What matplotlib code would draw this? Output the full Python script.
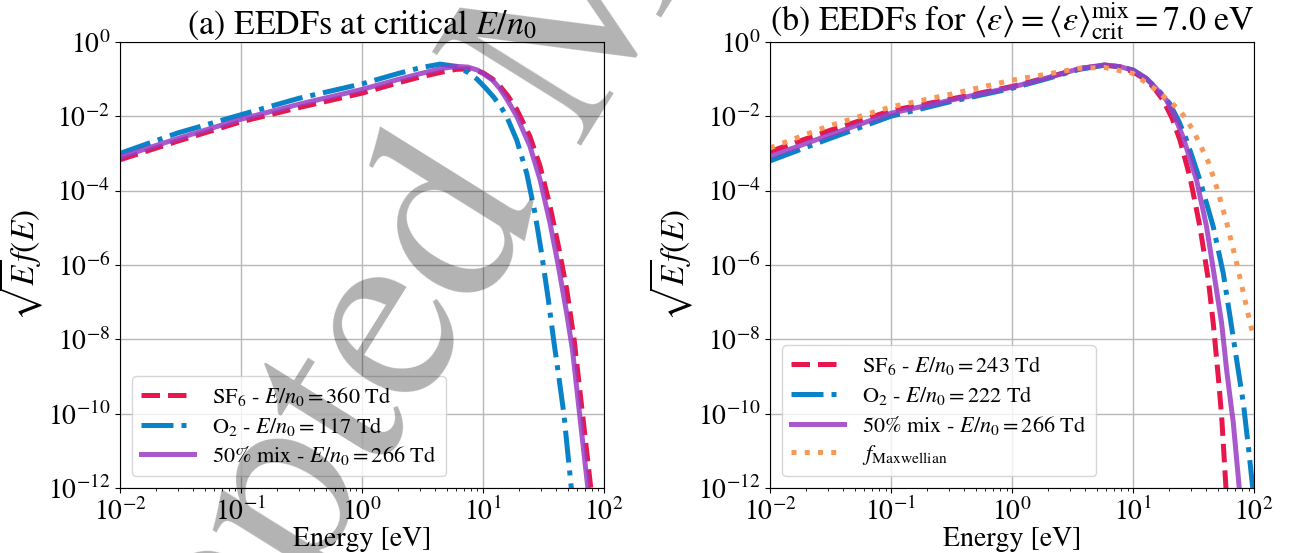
import numpy as np
import matplotlib
matplotlib.use('Agg')
import matplotlib.pyplot as plt
from matplotlib.ticker import NullLocator

plt.rcParams['font.family'] = ['STIXGeneral', 'Liberation Serif', 'DejaVu Serif']
plt.rcParams['mathtext.fontset'] = 'stix'

# values as log10(sqrt(E) f(E))
# panel (a): EEDFs at critical E/n0
e_sf6_a = [0.01, 0.03, 0.1, 0.3, 1, 2, 3, 4.5, 6, 7.5, 9, 10.1, 12, 13.8, 16, 19, 24.4, 29.6, 35.8, 42, 49.2, 56.6, 66.4, 77.8]
f_sf6_a = [-3.17, -2.67, -2.15, -1.77, -1.38, -1.10, -0.95, -0.82, -0.74, -0.73, -0.78, -0.84, -1.0, -1.19, -1.45, -1.82, -2.54, -3.34, -4.42, -5.49, -6.66, -8.0, -10.0, -12.0]

e_o2_a = [0.01, 0.03, 0.1, 0.3, 1, 2, 3, 4.4, 6, 7.5, 8.9, 10.5, 12.2, 14, 15.7, 19, 23, 26.9, 30.5, 34.7, 38.3, 42.5, 46.6, 50, 53.7, 55]
f_o2_a = [-3.0, -2.45, -1.96, -1.52, -1.13, -0.85, -0.70, -0.60, -0.66, -0.82, -1.0, -1.24, -1.48, -1.74, -2.01, -2.64, -3.54, -4.61, -5.69, -6.94, -8.0, -9.05, -10.0, -11.0, -12.0, -12.4]

e_mix_a = [0.01, 0.03, 0.1, 0.3, 1, 2, 3, 4.5, 6, 7.5, 9, 10.1, 12, 13.8, 16, 19, 24.4, 29.6, 35.8, 42, 49.2, 55, 62.8, 73.6]
f_mix_a = [-3.10, -2.60, -2.08, -1.68, -1.28, -1.01, -0.86, -0.72, -0.66, -0.68, -0.76, -0.86, -1.03, -1.26, -1.58, -2.0, -2.8, -3.7, -4.87, -6.03, -7.3, -8.3, -10.0, -12.0]

# panel (b): EEDFs at the same mean energy
e_sf6_b = [0.01, 0.03, 0.1, 0.3, 1, 2, 3.6, 5.8, 7.8, 10, 12.8, 15, 17.7, 21, 24.4, 29.5, 35.7, 41.9, 46, 50.6, 54, 58.6]
f_sf6_b = [-2.95, -2.4, -1.85, -1.55, -1.2, -0.95, -0.72, -0.63, -0.67, -0.81, -1.02, -1.25, -1.57, -2.05, -2.64, -3.63, -4.97, -6.40, -7.57, -9.0, -10.08, -12.0]

e_o2_b = [0.01, 0.03, 0.1, 0.3, 1, 2, 3.6, 5.8, 7.8, 10, 12.8, 16, 20.1, 24, 27.7, 35.7, 46, 55.7, 63.3, 71.8, 81.6, 89.7, 96.9, 98.5]
f_o2_b = [-3.2, -2.62, -2.0, -1.62, -1.25, -0.98, -0.74, -0.63, -0.67, -0.76, -0.98, -1.28, -1.66, -2.15, -2.64, -3.72, -4.97, -6.23, -7.39, -8.55, -9.72, -10.88, -11.91, -12.1]

e_mix_b = [0.01, 0.03, 0.1, 0.3, 1, 2, 3.6, 5.8, 7.8, 10, 12.8, 15, 18.9, 22, 25.9, 33.5, 40.5, 47.5, 54, 59.3, 67.4, 75.5]
f_mix_b = [-3.08, -2.52, -1.92, -1.58, -1.22, -0.96, -0.72, -0.62, -0.67, -0.76, -0.98, -1.2, -1.57, -2.0, -2.56, -3.72, -4.97, -6.40, -7.57, -8.82, -10.25, -12.0]

e_maxw = [0.01, 0.03, 0.1, 0.31, 1, 1.93, 3.6, 5.8, 10, 15.6, 24.4, 31.4, 41.9, 49, 59.3, 71.8, 81.6, 92.7, 100]
f_maxw = [-2.85, -2.27, -1.75, -1.41, -1.03, -0.87, -0.71, -0.69, -0.85, -1.30, -1.84, -2.38, -3.23, -3.9, -4.85, -5.95, -6.75, -7.55, -8.0]

labels_a = [r'SF$_6$ - $E/n_0 = 360$ Td', r'O$_2$ - $E/n_0 = 117$ Td', r'50% mix - $E/n_0 = 266$ Td']
labels_b = [r'SF$_6$ - $E/n_0 = 243$ Td', r'O$_2$ - $E/n_0 = 222$ Td', r'50% mix - $E/n_0 = 266$ Td',
            r'$f_{\mathrm{Maxwellian}}$']

c_sf6 = '#e8174b'
c_o2 = '#0a82c8'
c_mix = '#9a3cc4'
c_max = '#f5995a'
lw = 3.6

fig = plt.figure(figsize=(12.97, 5.53), dpi=100)
ax1 = fig.add_axes([0.0925, 0.117, 0.3732, 0.8074])
ax2 = fig.add_axes([0.5937, 0.117, 0.3732, 0.8074])

def pw(v):
    return 10.0 ** np.array(v)

ax1.plot(e_sf6_a, pw(f_sf6_a), ls='--', lw=lw, color=c_sf6, label=labels_a[0])
ax1.plot(e_o2_a, pw(f_o2_a), ls='-.', lw=lw, color=c_o2, label=labels_a[1])
ax1.plot(e_mix_a, pw(f_mix_a), ls='-', lw=lw, color=c_mix, alpha=0.85, label=labels_a[2])

ax2.plot(e_sf6_b, pw(f_sf6_b), ls='--', lw=lw, color=c_sf6, label=labels_b[0])
ax2.plot(e_o2_b, pw(f_o2_b), ls='-.', lw=lw, color=c_o2, label=labels_b[1])
ax2.plot(e_mix_b, pw(f_mix_b), ls='-', lw=lw, color=c_mix, alpha=0.85, label=labels_b[2])
ax2.plot(e_maxw, pw(f_maxw), ls=':', lw=lw, color=c_max, label=labels_b[3])

for ax in (ax1, ax2):
    ax.set_xscale('log')
    ax.set_yscale('log')
    ax.set_xlim(1e-2, 1e2)
    ax.set_ylim(1e-12, 1e0)
    ax.set_yticks([1e0, 1e-2, 1e-4, 1e-6, 1e-8, 1e-10, 1e-12])
    ax.yaxis.set_minor_locator(NullLocator())
    ax.grid(True, which='major', color='#b8b8b8', lw=1.0)
    ax.tick_params(labelsize=20)
    ax.set_xlabel('Energy [eV]', fontsize=20, labelpad=0)
    ax.set_ylabel(r'$\sqrt{E}f(E)$', fontsize=24, labelpad=2)
    ax.legend(loc='lower left', fontsize=16, handlelength=2.4, labelspacing=0.3,
              borderpad=0.4, borderaxespad=0.55)

ax1.set_title(r'(a) EEDFs at critical $E/n_0$', fontsize=24.5, pad=3)
ax2.set_title(r'(b) EEDFs for $\langle\varepsilon\rangle = \langle\varepsilon\rangle^{\mathrm{mix}}_{\mathrm{crit}} = 7.0$ eV',
              fontsize=24.5, pad=3)

# watermark of the accepted manuscript
fig.text(0.4356, 0.8987, 'Accepted Manuscript', fontsize=190, color='k', alpha=0.3,
         rotation=58, rotation_mode='anchor', ha='center', va='center', zorder=10)

fig.savefig('out.png', dpi=100)
